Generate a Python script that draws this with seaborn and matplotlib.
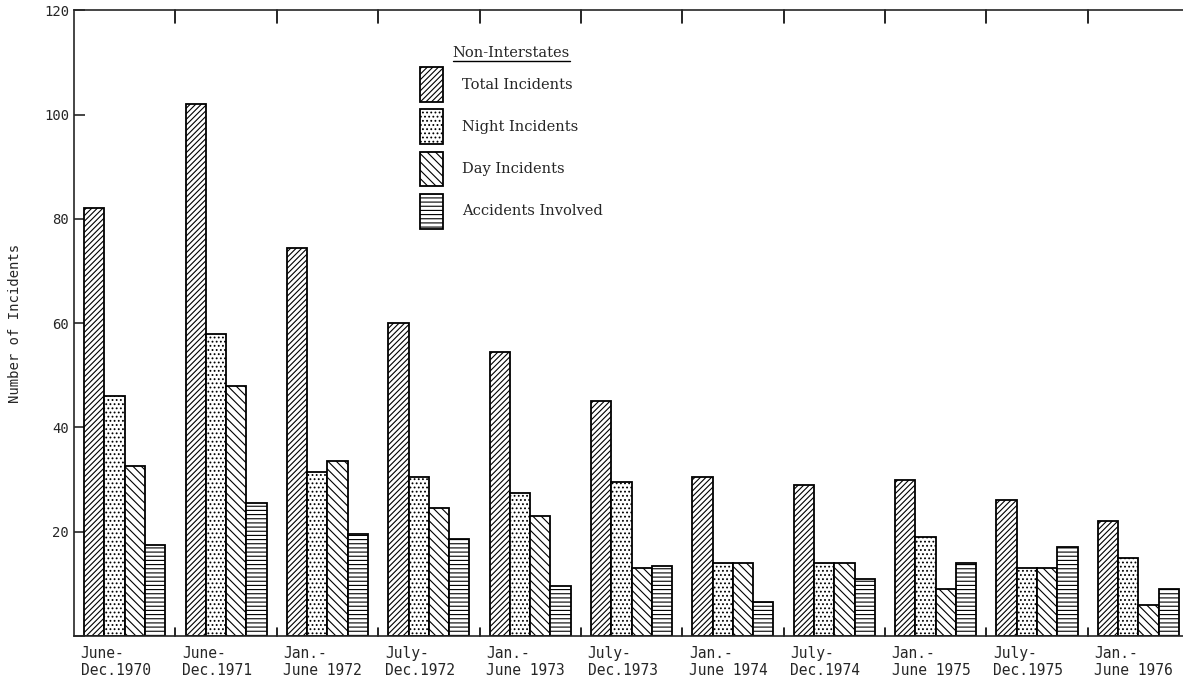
import pandas as pd
import matplotlib.pyplot as plt
import seaborn as sns
from matplotlib.lines import Line2D
from matplotlib.transforms import ScaledTranslation

periods = ["June-\nDec.1970", "June-\nDec.1971", "Jan.-\nJune 1972", "July-\nDec.1972",
           "Jan.-\nJune 1973", "July-\nDec.1973", "Jan.-\nJune 1974", "July-\nDec.1974",
           "Jan.-\nJune 1975", "July-\nDec.1975", "Jan.-\nJune 1976"]
series = ["Total Incidents", "Night Incidents", "Day Incidents", "Accidents Involved"]
total = [82, 102, 74.5, 60, 54.5, 45, 30.5, 29, 30, 26, 22]
night = [46, 58, 31.5, 30.5, 27.5, 29.5, 14, 14, 19, 13, 15]
day = [32.5, 48, 33.5, 24.5, 23, 13, 14, 14, 9, 13, 6]
accidents = [17.5, 25.5, 19.5, 18.5, 9.5, 13.5, 6.5, 11, 14, 17, 9]

rows = []
for name, vals in zip(series, [total, night, day, accidents]):
    for p, v in zip(periods, vals):
        rows.append({"period": p, "series": name, "count": v})
df = pd.DataFrame(rows)

sns.set_style("ticks")
plt.rcParams['font.family'] = ['DejaVu Sans Mono']
plt.rcParams['hatch.linewidth'] = 0.8

fig = plt.figure(figsize=(11.83, 6.86), dpi=100)
ax = fig.add_axes([0.0626, 0.073, 0.9374, 0.912])

sns.barplot(data=df, x="period", y="count", hue="series", order=periods, hue_order=series,
            palette=["white"] * 4, edgecolor="black", linewidth=1.3, width=0.8,
            legend=False, ax=ax)

hatches = ["//////", "....", "\\\\\\\\", "----"]
for cont, h in zip(ax.containers, hatches):
    for bar in cont:
        bar.set_hatch(h)

ax.set_ylim(0, 120)
ax.set_xlim(-0.5, 10.44)
ax.set_yticks([0, 20, 40, 60, 80, 100, 120])
ax.set_yticklabels(["", "20", "40", "60", "80", "100", "120"], fontsize=10)
ax.tick_params(axis="y", direction="in", length=8, width=1.2)
ax.set_xticks(range(len(periods)))
ax.set_xticklabels(periods, fontsize=10.5, ha="left", multialignment="left")
ax.tick_params(axis="x", length=0, pad=7)
shift = ScaledTranslation(-0.44, 0, fig.dpi_scale_trans)
for lab in ax.get_xticklabels():
    lab.set_transform(lab.get_transform() + shift)

# small group separator ticks on the bottom and top
for i in range(1, len(periods)):
    ax.plot([i - 0.5, i - 0.5], [0, 1.5], color="black", lw=1.2, clip_on=False)
    ax.plot([i - 0.5, i - 0.5], [120, 117.5], color="black", lw=1.2, clip_on=False)

ax.spines["right"].set_visible(False)
for s in ["left", "bottom", "top"]:
    ax.spines[s].set_linewidth(1.2)
ax.set_xlabel("")
ax.set_ylabel("Number of Incidents", fontsize=10, labelpad=16)

leg = ax.legend(ax.containers, series, title="Non-Interstates", loc="upper left",
                bbox_to_anchor=(0.3, 0.964), frameon=False, handlelength=1.6,
                handleheight=3.3, labelspacing=0.5, handletextpad=1.3,
                prop={"family": "DejaVu Serif", "size": 10.5},
                title_fontproperties={"family": "DejaVu Serif", "size": 10.5})

fig.canvas.draw()
bb = leg.get_title().get_window_extent().transformed(fig.transFigure.inverted())
fig.add_artist(Line2D([bb.x0, bb.x1], [bb.y0 - 0.002, bb.y0 - 0.002], color="black", lw=1))

fig.savefig("out.png", dpi=100)
